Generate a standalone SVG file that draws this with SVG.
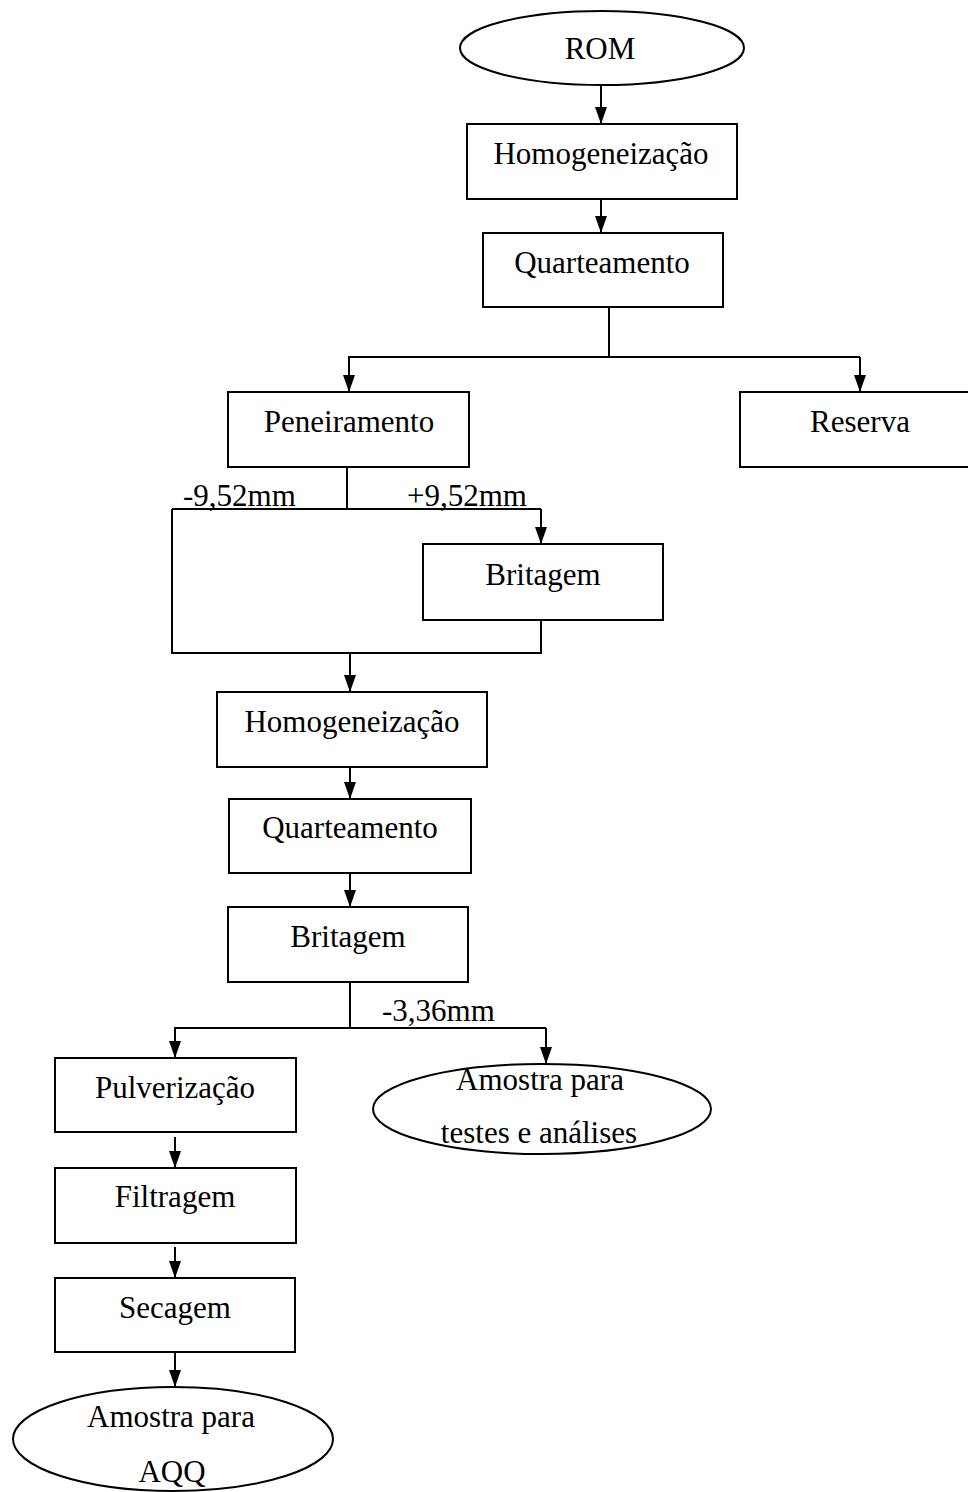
<svg xmlns="http://www.w3.org/2000/svg" width="968" height="1492" viewBox="0 0 968 1492">
<style>
.box{fill:#fff;stroke:#000;stroke-width:2}
.t{font-family:"Liberation Serif","Times New Roman",serif;font-size:31px;fill:#000;text-anchor:middle}
.l{font-family:"Liberation Serif","Times New Roman",serif;font-size:31px;fill:#000}
.c{fill:none;stroke:#000;stroke-width:2}
</style>
<defs>
<marker id="ah" markerUnits="userSpaceOnUse" markerWidth="17" markerHeight="12" refX="17" refY="6" orient="auto">
<path d="M0,0 L17,6 L0,12 z" fill="#000"/>
</marker>
</defs>
<rect width="968" height="1492" fill="#fff"/>
<g id="connectors">
<line class="c" x1="601" y1="86" x2="601" y2="124" marker-end="url(#ah)"/>
<line class="c" x1="601" y1="199" x2="601" y2="233" marker-end="url(#ah)"/>
<polyline class="c" points="609,307 609,357"/>
<polyline class="c" points="348,357 860,357"/>
<line class="c" x1="349" y1="357" x2="349" y2="392" marker-end="url(#ah)"/>
<line class="c" x1="860" y1="357" x2="860" y2="392" marker-end="url(#ah)"/>
<polyline class="c" points="347,467 347,509"/>
<polyline class="c" points="172,509 541,509"/>
<line class="c" x1="541" y1="509" x2="541" y2="544" marker-end="url(#ah)"/>
<polyline class="c" points="172,509 172,653 541,653 541,620"/>
<line class="c" x1="350" y1="653" x2="350" y2="692" marker-end="url(#ah)"/>
<line class="c" x1="350" y1="767" x2="350" y2="799" marker-end="url(#ah)"/>
<line class="c" x1="350" y1="873" x2="350" y2="907" marker-end="url(#ah)"/>
<polyline class="c" points="350,982 350,1028"/>
<polyline class="c" points="174,1028 546,1028"/>
<line class="c" x1="175" y1="1028" x2="175" y2="1058" marker-end="url(#ah)"/>
<line class="c" x1="546" y1="1028" x2="546" y2="1064" marker-end="url(#ah)"/>
<line class="c" x1="175" y1="1137" x2="175" y2="1168" marker-end="url(#ah)"/>
<line class="c" x1="175" y1="1247" x2="175" y2="1278" marker-end="url(#ah)"/>
<line class="c" x1="175" y1="1352" x2="175" y2="1387" marker-end="url(#ah)"/>
<text class="l" x="183" y="506">-9,52mm</text>
<text class="l" x="407" y="506">+9,52mm</text>
<text class="l" x="382" y="1021">-3,36mm</text>
</g>
<g id="rom">
<ellipse class="box" cx="602" cy="48" rx="142" ry="37"/>
<text class="t" x="600" y="59">ROM</text>
</g>
<g id="homog1">
<rect class="box" x="467" y="124" width="270" height="75"/>
<text class="t" x="601" y="164">Homogeneização</text>
</g>
<g id="quart1">
<rect class="box" x="483" y="233" width="240" height="74"/>
<text class="t" x="602" y="273">Quarteamento</text>
</g>
<g id="peneiramento">
<rect class="box" x="228" y="392" width="241" height="75"/>
<text class="t" x="349" y="432">Peneiramento</text>
</g>
<g id="reserva">
<rect class="box" x="740" y="392" width="240" height="75"/>
<text class="t" x="860" y="432">Reserva</text>
</g>
<g id="britagem1">
<rect class="box" x="423" y="544" width="240" height="76"/>
<text class="t" x="543" y="585">Britagem</text>
</g>
<g id="homog2">
<rect class="box" x="217" y="692" width="270" height="75"/>
<text class="t" x="352" y="732">Homogeneização</text>
</g>
<g id="quart2">
<rect class="box" x="229" y="799" width="242" height="74"/>
<text class="t" x="350" y="838">Quarteamento</text>
</g>
<g id="britagem2">
<rect class="box" x="228" y="907" width="240" height="75"/>
<text class="t" x="348" y="947">Britagem</text>
</g>
<g id="pulverizacao">
<rect class="box" x="55" y="1058" width="241" height="74"/>
<text class="t" x="175" y="1098">Pulverização</text>
</g>
<g id="amostra-testes">
<ellipse class="box" cx="542" cy="1109" rx="169" ry="45"/>
<text class="t" x="540" y="1090">Amostra para</text>
<text class="t" x="539" y="1143">testes e análises</text>
</g>
<g id="filtragem">
<rect class="box" x="55" y="1168" width="241" height="75"/>
<text class="t" x="175" y="1207">Filtragem</text>
</g>
<g id="secagem">
<rect class="box" x="55" y="1278" width="240" height="74"/>
<text class="t" x="175" y="1318">Secagem</text>
</g>
<g id="amostra-aqq">
<ellipse class="box" cx="173" cy="1439" rx="160" ry="52"/>
<text class="t" x="171" y="1427">Amostra para</text>
<text class="t" x="172" y="1482">AQQ</text>
</g>
</svg>
